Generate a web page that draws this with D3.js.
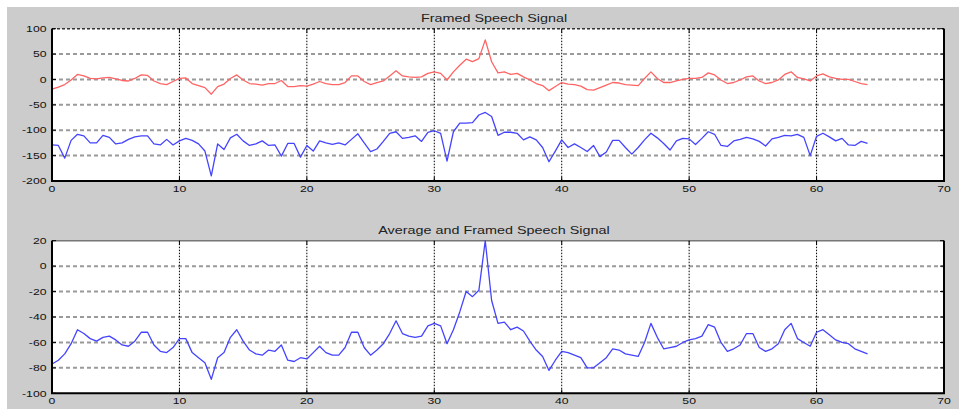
<!DOCTYPE html>
<html><head><meta charset="utf-8">
<script src="https://cdn.jsdelivr.net/npm/d3@7"></script>
<style>html,body{margin:0;padding:0;background:#fff;} svg{display:block;}</style>
</head><body>
<svg id="chart" width="959" height="409"></svg>
<script>
// Samples are taken every half frame, from frame 0 to frame 64
const sampleStep = 0.5;

// Upper trace of the framed signal (red)
const framedUpper = [
  -19,-15,-10,-1,10,7,2,1,3,4,
  1,-2,-3,2,9,8,-3,-8,-10,-4,
  2,3,-8,-12,-16,-29,-14,-9,2,9,
  -1,-8,-9,-11,-8,-8,-2,-14,-14,-12,
  -13,-9,-4,-8,-10,-10,-6,7,7,-4,
  -10,-6,-3,7,17,7,5,4,5,12,
  15,12,-1,15,28,40,35,41,78,35,
  13,15,10,12,5,-1,-8,-12,-22,-14,
  -6,-9,-10,-13,-20,-21,-16,-11,-6,-7,
  -10,-11,-12,2,15,2,-6,-6,-3,0,
  2,2,4,13,9,-1,-8,-6,-1,5,
  7,-3,-8,-6,-1,10,15,4,1,-3,
  7,11,5,2,0,0,-4,-8,-10
];

// Lower trace of the framed signal (blue)
const framedLower = [
  -129,-130,-155,-120,-108,-111,-125,-125,-110,-114,
  -127,-125,-118,-113,-111,-111,-127,-129,-118,-129,
  -121,-116,-120,-127,-141,-190,-127,-138,-115,-108,
  -121,-130,-127,-121,-130,-129,-151,-126,-126,-153,
  -130,-141,-121,-125,-128,-125,-129,-118,-107,-125,
  -142,-137,-122,-106,-103,-116,-114,-111,-122,-104,
  -101,-106,-161,-103,-86,-86,-85,-70,-65,-73,
  -110,-104,-104,-106,-119,-113,-119,-134,-162,-141,
  -119,-134,-127,-134,-142,-130,-152,-143,-120,-120,
  -134,-147,-134,-119,-106,-115,-126,-139,-121,-116,
  -117,-128,-116,-103,-108,-130,-132,-121,-118,-114,
  -117,-122,-131,-117,-114,-110,-111,-108,-114,-150,
  -112,-106,-113,-121,-116,-129,-130,-122,-126
];

// Averaged framed signal
const averaged = [
  -77,-74,-69,-61,-50,-53,-57,-59,-56,-55,
  -58,-62,-63,-59,-52,-52,-62,-67,-68,-64,
  -57,-57,-68,-72,-76,-89,-72,-68,-56,-50,
  -59,-66,-69,-70,-66,-67,-62,-74,-75,-72,
  -73,-68,-63,-68,-70,-70,-64,-52,-52,-64,
  -70,-66,-61,-53,-43,-53,-55,-56,-55,-47,
  -45,-47,-61,-50,-36,-20,-24,-19,20,-27,
  -45,-44,-50,-48,-51,-59,-66,-71,-82,-74,
  -67,-68,-70,-72,-80,-80,-76,-72,-65,-66,
  -69,-70,-71,-60,-45,-56,-65,-64,-63,-60,
  -58,-57,-55,-46,-48,-60,-67,-65,-62,-53,
  -53,-64,-67,-65,-61,-50,-45,-57,-60,-63,
  -52,-50,-54,-58,-60,-61,-65,-67,-69
];

const xTicks = [0, 10, 20, 30, 40, 50, 60, 70];
const topYTicks = [-200, -150, -100, -50, 0, 50, 100];
const bottomYTicks = [-100, -80, -60, -40, -20, 0, 20];
const topTitle = "Framed Speech Signal";
const bottomTitle = "Average and Framed Speech Signal";

const W = 959, H = 409;
const FONT = "'Liberation Sans', Arial, sans-serif";
const STRETCH = 1.44;

const svg = d3.select("#chart");

// figure background
svg.append("rect")
  .attr("x", 7).attr("y", 7)
  .attr("width", W - 7).attr("height", H - 7)
  .attr("fill", "#cccccc");

const x = d3.scaleLinear().domain([0, 70]).range([52, 944]);

function drawPanel(opts) {
  const y = d3.scaleLinear().domain(opts.yDomain).range(opts.yRange);
  const g = svg.append("g");
  const [x0, x1] = x.range();
  const yb = y.range()[0], yt = y.range()[1];

  g.append("rect")
    .attr("x", x0).attr("y", yt)
    .attr("width", x1 - x0).attr("height", yb - yt)
    .attr("fill", "#ffffff");

  // horizontal grid
  g.append("g").selectAll("line")
    .data(opts.yTicks.filter(v => v > opts.yDomain[0] && v < opts.yDomain[1]))
    .join("line")
    .attr("x1", x0).attr("x2", x1)
    .attr("y1", d => y(d)).attr("y2", d => y(d))
    .attr("stroke", "#9a9a9a").attr("stroke-width", 2)
    .attr("stroke-dasharray", "4,3");

  // vertical grid
  g.append("g").selectAll("line")
    .data(xTicks.filter(v => v > 0 && v < 70))
    .join("line")
    .attr("x1", d => x(d)).attr("x2", d => x(d))
    .attr("y1", yt).attr("y2", yb)
    .attr("stroke", "#000").attr("stroke-width", 1)
    .attr("stroke-dasharray", "1.5,1.5");

  // top edge
  g.append("line")
    .attr("x1", x0).attr("x2", x1).attr("y1", yt).attr("y2", yt)
    .attr("stroke", opts.topEdge).attr("stroke-width", 1.5)
    .attr("stroke-dasharray", opts.topDash);

  // inward tick marks
  const tk = 4;
  g.append("g").selectAll("path")
    .data(opts.yTicks)
    .join("path")
    .attr("d", d => `M${x0},${y(d)}h${tk}M${x1},${y(d)}h${-tk}`)
    .attr("stroke", "#000").attr("stroke-width", 1);
  g.append("g").selectAll("path")
    .data(xTicks)
    .join("path")
    .attr("d", d => `M${x(d)},${yb}v${-tk}M${x(d)},${yt}v${tk}`)
    .attr("stroke", "#000").attr("stroke-width", 1);

  // data traces
  const line = d3.line()
    .x((d, i) => x(i * sampleStep))
    .y(d => y(d));
  opts.series.forEach(s => {
    g.append("path")
      .datum(s.values)
      .attr("d", line)
      .attr("fill", "none")
      .attr("stroke", s.color)
      .attr("stroke-width", 1.3)
      .attr("stroke-linejoin", "round");
  });

  // frame: left, bottom, right
  g.append("path")
    .attr("d", `M${x0},${yt}V${yb}H${x1}V${yt}`)
    .attr("fill", "none").attr("stroke", "#000").attr("stroke-width", 2);

  // y tick labels
  g.append("g").selectAll("text")
    .data(opts.yTicks)
    .join("text")
    .attr("transform", d => `translate(${x0 - 5.5},${y(d) + 3.2}) scale(${STRETCH},1)`)
    .attr("text-anchor", "end")
    .attr("font-family", FONT).attr("font-size", 8.5)
    .attr("fill", "#111")
    .text(d => String(d));

  // x tick labels
  g.append("g").selectAll("text")
    .data(xTicks)
    .join("text")
    .attr("transform", d => `translate(${x(d)},${yb + 11}) scale(${STRETCH},1)`)
    .attr("text-anchor", "middle")
    .attr("font-family", FONT).attr("font-size", 8.5)
    .attr("fill", "#111")
    .text(d => String(d));

  // title
  g.append("text")
    .attr("transform", `translate(494,${opts.titleY}) scale(${STRETCH},1)`)
    .attr("text-anchor", "middle")
    .attr("font-family", FONT).attr("font-size", 10)
    .attr("fill", "#222")
    .text(opts.title);
}

drawPanel({
  yDomain: [-200, 100],
  yRange: [181, 28.7],
  yTicks: topYTicks,
  title: topTitle,
  titleY: 22,
  topEdge: "#333",
  topDash: "3,2",
  series: [
    { values: framedUpper, color: "#ff6464" },
    { values: framedLower, color: "#4444ff" }
  ]
});

drawPanel({
  yDomain: [-100, 20],
  yRange: [393.3, 240.7],
  yTicks: bottomYTicks,
  title: bottomTitle,
  titleY: 234,
  topEdge: "#777",
  topDash: null,
  series: [
    { values: averaged, color: "#4444ff" }
  ]
});
</script>
</body></html>
